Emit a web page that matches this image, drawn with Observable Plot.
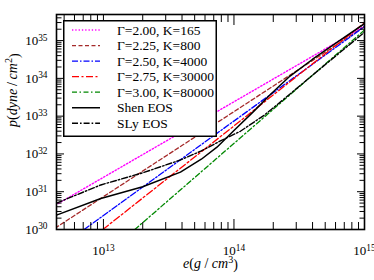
<!DOCTYPE html>
<html><head><meta charset="utf-8">
<script src="https://cdn.jsdelivr.net/npm/d3@7"></script>
<script src="https://cdn.jsdelivr.net/npm/@observablehq/plot@0.6"></script>
<style>
body{margin:0;background:#fff;}
#wrap{position:relative;width:374px;height:280px;}
#legend{position:absolute;left:63px;top:20px;}
</style></head><body><div id="wrap"></div>
<script>
// ---- data ----
const seriesNames = ["Γ=2.00, K=165","Γ=2.25, K=800","Γ=2.50, K=4000","Γ=2.75, K=30000","Γ=3.00, K=80000","Shen EOS","SLy EOS"];
const seriesColors = ["#ff00ff","#a52a2a","#0000ff","#ff0000","#008800","#000000","#000000"];
const seriesDash = ["1.3,2","4,2.5","6,2,1.5,2","7,2.5,2,2.5","5,2.5,1.5,2.5",null,"6,2,1.6,2"];
const seriesWidth = [1.4,1.3,1.3,1.3,1.3,1.5,1.4];

const g200E = [4.27e12, 1e15], g200P = [4.38e30, 2.40e35];
const g225E = [4.27e12, 1e15], g225P = [1.09e30, 2.34e35];
const g250E = [7.11e12, 1e15], g250P = [1.0e30, 2.35e35];
const g275E = [9.9e12, 1e15],  g275P = [1.0e30, 2.95e35];
const g300E = [1.74e13, 1e15], g300P = [1.0e30, 1.9e35];
const shenE = [4.37e12, 9.55e12, 2.0e13, 3.89e13, 5.62e13, 7.41e13, 1.0e14, 1.41e14, 1.91e14, 2.69e14, 3.98e14, 6.31e14, 1.0e15];
const shenP = [2.40e30, 6.6e30, 1.35e31, 3.31e31, 7.24e31, 1.51e32, 4.17e32, 1.32e33, 3.80e33, 1.15e34, 3.16e34, 9.5e34, 2.8e35];
const slyE = [4.37e12, 9.55e12, 2.0e13, 3.89e13, 5.62e13, 7.94e13, 1.12e14, 1.70e14, 2.51e14, 3.98e14, 6.31e14, 1.0e15];
const slyP = [5.01e30, 1.51e31, 3.16e31, 6.92e31, 1.20e32, 2.24e32, 3.98e32, 1.05e33, 3.16e33, 1.20e34, 4.47e34, 1.66e35];

const xTicks = [1e13, 1e14, 1e15];
const yTicks = [1e30, 1e31, 1e32, 1e33, 1e34, 1e35];
const xDomain = [4.37e12, 1e15];
const yDomain = [1e30, 4.9e35];
const xLabel = "e(g/cm3)", yLabel = "p(dyne/cm2)";

// ---- build ----
const allE = [g200E, g225E, g250E, g275E, g300E, shenE, slyE];
const allP = [g200P, g225P, g250P, g275P, g300P, shenP, slyP];
const rows = allE.map((E, i) => E.map((e, j) => ({e, p: allP[i][j]})));

function minorTicks(domain, lo, hi) {
  const out = [];
  for (let d = lo; d <= hi; d++) for (let k = 2; k <= 9; k++) {
    const v = k * Math.pow(10, d);
    if (v > domain[0] && v < domain[1]) out.push(v);
  }
  return out;
}
const xMinor = minorTicks(xDomain, 12, 14);
const yMinor = minorTicks(yDomain, 30, 35);
const fmt = d => "10" + Math.round(Math.log10(d));
const none = () => "";

const marks = [];
rows.forEach((r, i) => {
  marks.push(Plot.line(r, {x: "e", y: "p", stroke: seriesColors[i], strokeWidth: seriesWidth[i],
    strokeDasharray: seriesDash[i] || undefined, clip: true}));
});
marks.push(
  Plot.axisX(xTicks, {anchor: "bottom", tickSize: -10, tickPadding: 26, tickFormat: fmt, label: null, fontSize: 13}),
  Plot.axisX(xMinor, {anchor: "bottom", tickSize: -7, tickFormat: none, label: null}),
  Plot.axisX(xTicks, {anchor: "top", tickSize: -10, tickFormat: none, label: null}),
  Plot.axisX(xMinor, {anchor: "top", tickSize: -7, tickFormat: none, label: null}),
  Plot.axisY(yTicks, {anchor: "left", tickSize: -8, tickPadding: 17, tickFormat: fmt, label: null, fontSize: 13}),
  Plot.axisY(yMinor, {anchor: "left", tickSize: -5.5, tickFormat: none, label: null}),
  Plot.axisY(yTicks, {anchor: "right", tickSize: -8, tickFormat: none, label: null}),
  Plot.axisY(yMinor, {anchor: "right", tickSize: -5.5, tickFormat: none, label: null}),
  Plot.frame({stroke: "black", strokeWidth: 1.6}),
  Plot.text([xLabel], {frameAnchor: "bottom", dy: 38, fontSize: 14, text: d => d}),
  Plot.text([yLabel], {frameAnchor: "left", dx: -44, dy: 5, rotate: -90, fontSize: 14, text: d => d})
);

const svg = Plot.plot({
  width: 374, height: 280,
  marginLeft: 56, marginRight: 10, marginTop: 14, marginBottom: 51,
  x: {type: "log", domain: xDomain},
  y: {type: "log", domain: yDomain},
  style: {fontFamily: "'Liberation Serif', serif", fontSize: "13px", background: "white", color: "black"},
  marks
});

// superscripts and italics as real text
d3.select(svg).selectAll("text").each(function() {
  const t = this.textContent;
  const m = /^10(\d\d)$/.exec(t);
  const sel = d3.select(this);
  if (m) {
    sel.text("10");
    sel.append("tspan").attr("dy", "-0.45em").attr("font-size", "72%").text(m[1]);
  } else if (t === xLabel || t === yLabel) {
    const sp = t === xLabel ? " / " : "\u2009/\u2009";
    const parts = t === xLabel
      ? [["e", 1], ["(", 0], ["g", 1], [sp, 0], ["cm", 1], ["3", 2], [")", 3]]
      : [["p", 1], ["(", 0], ["dyne", 1], [sp, 0], ["cm", 1], ["2", 2], [")", 3]];
    sel.text("");
    for (const [s, k] of parts) {
      const ts = sel.append("tspan").text(s);
      if (k === 1) ts.attr("font-style", "italic");
      if (k === 2) ts.attr("dy", "-0.45em").attr("font-size", "72%");
      if (k === 3) ts.attr("dy", "0.45em");
    }
  }
});

const wrap = document.getElementById("wrap");
wrap.appendChild(svg);

// legend
const lg = d3.select(wrap).append("svg").attr("id", "legend").attr("width", 154).attr("height", 117)
  .style("font-family", "'Liberation Serif', serif").style("font-size", "13.5px");
lg.append("rect").attr("x", 0.75).attr("y", 0.75).attr("width", 152.5).attr("height", 115.5)
  .attr("fill", "white").attr("stroke", "black").attr("stroke-width", 1.5);
seriesNames.forEach((name, i) => {
  const y = 10 + 15.55 * i;
  lg.append("line").attr("x1", 9).attr("x2", 37).attr("y1", y).attr("y2", y)
    .attr("stroke", seriesColors[i]).attr("stroke-width", seriesWidth[i])
    .attr("stroke-dasharray", seriesDash[i]);
  lg.append("text").attr("x", 54).attr("y", y + 4.6).text(name);
});
</script></body></html>
